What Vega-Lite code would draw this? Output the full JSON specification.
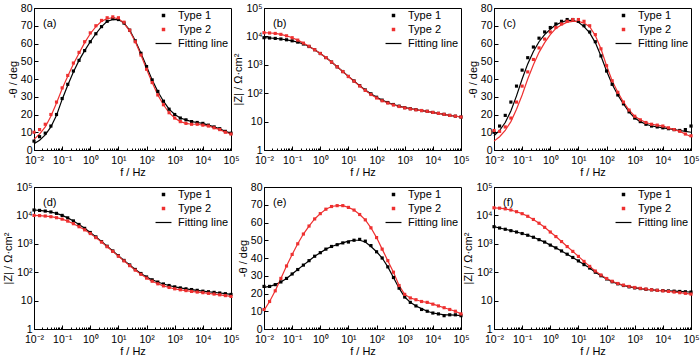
{
"$schema":"https://vega.github.io/schema/vega-lite/v6.json",
"background":"white",
"padding":{"left":2,"top":2,"right":2,"bottom":2},
"bounds":"flush",
"columns":3,
"spacing":{"row":37,"column":33},
"config":{
 "font":"Liberation Sans",
 "view":{"stroke":"black","strokeWidth":1},
 "axis":{"domainColor":"black","domainWidth":1,"tickColor":"black","tickWidth":1,"labelColor":"black","titleColor":"black","labelFontSize":10.5,"titleFontSize":11,"titleFontWeight":"normal","grid":false,"labelPadding":6,"titlePadding":2,"labelFlush":false,"labelOverlap":false,"labelBound":false},
 "title":{"fontSize":11,"fontWeight":"normal","anchor":"start","frame":"group","offset":-26,"dx":9,"color":"black"},
 "legend":{"labelColor":"black","labelFont":"Liberation Sans","title":"\u00a0","titleOrient":"right","titlePadding":6,"titleFontSize":11,"orient":"top-right","offset":2,"padding":0,"rowPadding":2,"labelFontSize":11,"labelOffset":9,"symbolSize":12}
},
"resolve":{"legend":{"color":"independent","shape":"independent"}},
"datasets":{
"a":[
{"f":0.01,"Type 1":5,"Type 2":10,"fit1":3.5,"fit2":6},
{"f":0.0158,"Type 1":7.5,"Type 2":11.5,"fit1":5.5,"fit2":9},
{"f":0.0251,"Type 1":9.5,"Type 2":14.5,"fit1":8.5,"fit2":13},
{"f":0.0398,"Type 1":13.5,"Type 2":20,"fit1":13,"fit2":19},
{"f":0.0631,"Type 1":20,"Type 2":27,"fit1":19.5,"fit2":26.5},
{"f":0.1,"Type 1":29,"Type 2":35,"fit1":28.5,"fit2":34.5},
{"f":0.158,"Type 1":37,"Type 2":42,"fit1":36.5,"fit2":41.5},
{"f":0.251,"Type 1":44.5,"Type 2":49,"fit1":44,"fit2":48.5},
{"f":0.398,"Type 1":50.5,"Type 2":55,"fit1":50.5,"fit2":54.5},
{"f":0.631,"Type 1":56,"Type 2":61,"fit1":56,"fit2":60.5},
{"f":1,"Type 1":61,"Type 2":66,"fit1":61,"fit2":65.5},
{"f":1.58,"Type 1":65.5,"Type 2":70,"fit1":65.5,"fit2":69.5},
{"f":2.51,"Type 1":69.5,"Type 2":73,"fit1":69.5,"fit2":72.5},
{"f":3.98,"Type 1":72.5,"Type 2":74.5,"fit1":72.5,"fit2":74},
{"f":6.31,"Type 1":74,"Type 2":75,"fit1":73.5,"fit2":74.5},
{"f":10,"Type 1":73.5,"Type 2":74.5,"fit1":73.5,"fit2":74},
{"f":15.8,"Type 1":71.5,"Type 2":72,"fit1":71.5,"fit2":71.5},
{"f":25.1,"Type 1":67.5,"Type 2":67.5,"fit1":67.5,"fit2":67},
{"f":39.8,"Type 1":61.5,"Type 2":61,"fit1":61.5,"fit2":61},
{"f":63.1,"Type 1":54.5,"Type 2":53.5,"fit1":54.5,"fit2":53.5},
{"f":100,"Type 1":47,"Type 2":45.5,"fit1":47,"fit2":45.5},
{"f":158,"Type 1":39.5,"Type 2":38,"fit1":39.5,"fit2":38},
{"f":251,"Type 1":33,"Type 2":31,"fit1":33,"fit2":31},
{"f":398,"Type 1":27.5,"Type 2":25.5,"fit1":27.5,"fit2":25.5},
{"f":631,"Type 1":23,"Type 2":21,"fit1":23,"fit2":21},
{"f":1000,"Type 1":20,"Type 2":18,"fit1":20,"fit2":18},
{"f":1580,"Type 1":18,"Type 2":16,"fit1":18,"fit2":16},
{"f":2510,"Type 1":17,"Type 2":15,"fit1":17,"fit2":15},
{"f":3980,"Type 1":16,"Type 2":14.5,"fit1":16,"fit2":14.5},
{"f":6310,"Type 1":15.5,"Type 2":14.5,"fit1":15.5,"fit2":14.5},
{"f":10000,"Type 1":15,"Type 2":14,"fit1":15,"fit2":14},
{"f":15800,"Type 1":14,"Type 2":13.5,"fit1":14,"fit2":13.5},
{"f":25100,"Type 1":13,"Type 2":12.5,"fit1":13,"fit2":12.5},
{"f":39800,"Type 1":12,"Type 2":11.5,"fit1":12,"fit2":11.5},
{"f":63100,"Type 1":10.5,"Type 2":10,"fit1":10.5,"fit2":10},
{"f":100000,"Type 1":9.5,"Type 2":9,"fit1":9.5,"fit2":9}
],
"b":[
{"f":0.01,"Type 1":9000,"Type 2":13500},
{"f":0.0158,"Type 1":8800,"Type 2":13200},
{"f":0.0251,"Type 1":8500,"Type 2":12700},
{"f":0.0398,"Type 1":8100,"Type 2":11800},
{"f":0.0631,"Type 1":7600,"Type 2":10500},
{"f":0.1,"Type 1":7000,"Type 2":9000},
{"f":0.158,"Type 1":6300,"Type 2":7400},
{"f":0.251,"Type 1":5400,"Type 2":5800},
{"f":0.398,"Type 1":4400,"Type 2":4500},
{"f":0.631,"Type 1":3400,"Type 2":3400},
{"f":1,"Type 1":2500,"Type 2":2500},
{"f":1.58,"Type 1":1800,"Type 2":1800},
{"f":2.51,"Type 1":1250,"Type 2":1250},
{"f":3.98,"Type 1":850,"Type 2":850},
{"f":6.31,"Type 1":580,"Type 2":575},
{"f":10,"Type 1":390,"Type 2":385},
{"f":15.8,"Type 1":270,"Type 2":265},
{"f":25.1,"Type 1":185,"Type 2":180},
{"f":39.8,"Type 1":130,"Type 2":125},
{"f":63.1,"Type 1":95,"Type 2":90},
{"f":100,"Type 1":72,"Type 2":68},
{"f":158,"Type 1":57,"Type 2":54},
{"f":251,"Type 1":47,"Type 2":45},
{"f":398,"Type 1":40,"Type 2":38.5},
{"f":631,"Type 1":35,"Type 2":34},
{"f":1000,"Type 1":31,"Type 2":30.5},
{"f":1580,"Type 1":28.5,"Type 2":28},
{"f":2510,"Type 1":26.5,"Type 2":26},
{"f":3980,"Type 1":24.5,"Type 2":24.5},
{"f":6310,"Type 1":23,"Type 2":23},
{"f":10000,"Type 1":21,"Type 2":21},
{"f":15800,"Type 1":19.5,"Type 2":19.5},
{"f":25100,"Type 1":18,"Type 2":18},
{"f":39800,"Type 1":16.5,"Type 2":16.5},
{"f":63100,"Type 1":15.5,"Type 2":15.5},
{"f":100000,"Type 1":14.5,"Type 2":14.5}
],
"c":[
{"f":0.01,"Type 1":10,"Type 2":11,"fit1":8,"fit2":5},
{"f":0.0158,"Type 1":13.5,"Type 2":10.5,"fit1":11,"fit2":7.5},
{"f":0.0251,"Type 1":19.5,"Type 2":13,"fit1":15.5,"fit2":11},
{"f":0.0398,"Type 1":27,"Type 2":18,"fit1":22,"fit2":16},
{"f":0.0631,"Type 1":36,"Type 2":27,"fit1":30.5,"fit2":23},
{"f":0.1,"Type 1":45,"Type 2":36,"fit1":40,"fit2":31},
{"f":0.158,"Type 1":52,"Type 2":44,"fit1":48.5,"fit2":40},
{"f":0.251,"Type 1":58,"Type 2":51,"fit1":55.5,"fit2":48},
{"f":0.398,"Type 1":63,"Type 2":57.5,"fit1":61,"fit2":55},
{"f":0.631,"Type 1":66.5,"Type 2":62.5,"fit1":65,"fit2":60.5},
{"f":1,"Type 1":69,"Type 2":66.5,"fit1":68,"fit2":65},
{"f":1.58,"Type 1":71,"Type 2":69,"fit1":70.5,"fit2":68.5},
{"f":2.51,"Type 1":72.5,"Type 2":71,"fit1":72,"fit2":70.5},
{"f":3.98,"Type 1":73.5,"Type 2":72.5,"fit1":73,"fit2":72},
{"f":6.31,"Type 1":73.5,"Type 2":73.5,"fit1":73,"fit2":72.5},
{"f":10,"Type 1":72.5,"Type 2":73.5,"fit1":72,"fit2":72.5},
{"f":15.8,"Type 1":70,"Type 2":72.5,"fit1":69.5,"fit2":71.5},
{"f":25.1,"Type 1":66.5,"Type 2":70,"fit1":66,"fit2":69.5},
{"f":39.8,"Type 1":61,"Type 2":65,"fit1":60.5,"fit2":64.5},
{"f":63.1,"Type 1":53,"Type 2":57,"fit1":53,"fit2":57},
{"f":100,"Type 1":44.5,"Type 2":47.5,"fit1":44.5,"fit2":47.5},
{"f":158,"Type 1":37,"Type 2":39,"fit1":37,"fit2":39},
{"f":251,"Type 1":31,"Type 2":32.5,"fit1":31,"fit2":32.5},
{"f":398,"Type 1":26,"Type 2":27,"fit1":26,"fit2":27},
{"f":631,"Type 1":21.5,"Type 2":22.5,"fit1":21.5,"fit2":22.5},
{"f":1000,"Type 1":18,"Type 2":19,"fit1":18,"fit2":19},
{"f":1580,"Type 1":16,"Type 2":17,"fit1":16,"fit2":17},
{"f":2510,"Type 1":14.5,"Type 2":15.5,"fit1":14.5,"fit2":15.5},
{"f":3980,"Type 1":13.5,"Type 2":14.5,"fit1":13.5,"fit2":14.5},
{"f":6310,"Type 1":13,"Type 2":14,"fit1":13,"fit2":14},
{"f":10000,"Type 1":12.5,"Type 2":13.5,"fit1":12.5,"fit2":13.5},
{"f":15800,"Type 1":12,"Type 2":12.5,"fit1":12,"fit2":12.5},
{"f":25100,"Type 1":11.5,"Type 2":11.5,"fit1":11.5,"fit2":11.5},
{"f":39800,"Type 1":11,"Type 2":10.5,"fit1":11,"fit2":10.5},
{"f":63100,"Type 1":11.5,"Type 2":9,"fit1":10.5,"fit2":9},
{"f":100000,"Type 1":13.5,"Type 2":8,"fit1":10,"fit2":7.5}
],
"d":[
{"f":0.01,"Type 1":15500,"Type 2":10000},
{"f":0.0158,"Type 1":15000,"Type 2":9800},
{"f":0.0251,"Type 1":14200,"Type 2":9500},
{"f":0.0398,"Type 1":13200,"Type 2":9000},
{"f":0.0631,"Type 1":11800,"Type 2":8300},
{"f":0.1,"Type 1":10000,"Type 2":7400},
{"f":0.158,"Type 1":8200,"Type 2":6300},
{"f":0.251,"Type 1":6400,"Type 2":5100},
{"f":0.398,"Type 1":4800,"Type 2":4000},
{"f":0.631,"Type 1":3500,"Type 2":3100},
{"f":1,"Type 1":2500,"Type 2":2300},
{"f":1.58,"Type 1":1750,"Type 2":1650},
{"f":2.51,"Type 1":1200,"Type 2":1150},
{"f":3.98,"Type 1":820,"Type 2":790},
{"f":6.31,"Type 1":560,"Type 2":540},
{"f":10,"Type 1":380,"Type 2":365},
{"f":15.8,"Type 1":260,"Type 2":250},
{"f":25.1,"Type 1":180,"Type 2":170},
{"f":39.8,"Type 1":125,"Type 2":118},
{"f":63.1,"Type 1":90,"Type 2":84},
{"f":100,"Type 1":68,"Type 2":62},
{"f":158,"Type 1":54,"Type 2":48},
{"f":251,"Type 1":45,"Type 2":39},
{"f":398,"Type 1":38.5,"Type 2":33},
{"f":631,"Type 1":34,"Type 2":29},
{"f":1000,"Type 1":30.5,"Type 2":26},
{"f":1580,"Type 1":28,"Type 2":24},
{"f":2510,"Type 1":26,"Type 2":22.5},
{"f":3980,"Type 1":24.5,"Type 2":21},
{"f":6310,"Type 1":23,"Type 2":20},
{"f":10000,"Type 1":21.5,"Type 2":19},
{"f":15800,"Type 1":20.5,"Type 2":18},
{"f":25100,"Type 1":19.5,"Type 2":17},
{"f":39800,"Type 1":18.5,"Type 2":16},
{"f":63100,"Type 1":17.5,"Type 2":15},
{"f":100000,"Type 1":16.5,"Type 2":14}
],
"e":[
{"f":0.01,"Type 1":24,"Type 2":11,"fit1":23.5,"fit2":10.5},
{"f":0.0158,"Type 1":24,"Type 2":15.5,"fit1":24,"fit2":15.5},
{"f":0.0251,"Type 1":25,"Type 2":21.5,"fit1":25,"fit2":21.5},
{"f":0.0398,"Type 1":26.5,"Type 2":28.5,"fit1":26.5,"fit2":28.5},
{"f":0.0631,"Type 1":28.5,"Type 2":35.5,"fit1":28.5,"fit2":35.5},
{"f":0.1,"Type 1":31,"Type 2":42,"fit1":31,"fit2":42},
{"f":0.158,"Type 1":33.5,"Type 2":48,"fit1":33.5,"fit2":48},
{"f":0.251,"Type 1":36,"Type 2":53.5,"fit1":36,"fit2":53.5},
{"f":0.398,"Type 1":38.5,"Type 2":58,"fit1":38.5,"fit2":58},
{"f":0.631,"Type 1":41,"Type 2":62,"fit1":41,"fit2":62},
{"f":1,"Type 1":43,"Type 2":65,"fit1":43,"fit2":65},
{"f":1.58,"Type 1":45,"Type 2":67.5,"fit1":45,"fit2":67.5},
{"f":2.51,"Type 1":46.5,"Type 2":69,"fit1":46.5,"fit2":69},
{"f":3.98,"Type 1":47.5,"Type 2":69.5,"fit1":47.5,"fit2":69.5},
{"f":6.31,"Type 1":48.5,"Type 2":69.5,"fit1":48.5,"fit2":69.5},
{"f":10,"Type 1":49,"Type 2":68.5,"fit1":49.5,"fit2":68.5},
{"f":15.8,"Type 1":50,"Type 2":67,"fit1":50,"fit2":67},
{"f":25.1,"Type 1":50.5,"Type 2":64.5,"fit1":50,"fit2":64.5},
{"f":39.8,"Type 1":49.5,"Type 2":61.5,"fit1":49,"fit2":61.5},
{"f":63.1,"Type 1":47,"Type 2":57,"fit1":46.5,"fit2":57},
{"f":100,"Type 1":43.5,"Type 2":51.5,"fit1":43.5,"fit2":51.5},
{"f":158,"Type 1":40,"Type 2":45,"fit1":40,"fit2":45},
{"f":251,"Type 1":35,"Type 2":38.5,"fit1":35,"fit2":38.5},
{"f":398,"Type 1":29,"Type 2":32,"fit1":29,"fit2":32},
{"f":631,"Type 1":23,"Type 2":24.5,"fit1":23,"fit2":24.5},
{"f":1000,"Type 1":18,"Type 2":19.5,"fit1":18,"fit2":19.5},
{"f":1580,"Type 1":15,"Type 2":17.5,"fit1":15,"fit2":17.5},
{"f":2510,"Type 1":13,"Type 2":16.5,"fit1":13,"fit2":16.5},
{"f":3980,"Type 1":11,"Type 2":15.5,"fit1":11.5,"fit2":15.5},
{"f":6310,"Type 1":10,"Type 2":15,"fit1":10,"fit2":15},
{"f":10000,"Type 1":9,"Type 2":14,"fit1":9,"fit2":14},
{"f":15800,"Type 1":8.5,"Type 2":13,"fit1":8.5,"fit2":13},
{"f":25100,"Type 1":7.5,"Type 2":12,"fit1":8,"fit2":12},
{"f":39800,"Type 1":8,"Type 2":11,"fit1":8,"fit2":11},
{"f":63100,"Type 1":8,"Type 2":10,"fit1":7.8,"fit2":10},
{"f":100000,"Type 1":7.5,"Type 2":8.5,"fit1":7.5,"fit2":8.5}
],
"f":[
{"f":0.01,"Type 1":4000,"Type 2":18500},
{"f":0.0158,"Type 1":3600,"Type 2":18000},
{"f":0.0251,"Type 1":3250,"Type 2":17000},
{"f":0.0398,"Type 1":2900,"Type 2":15500},
{"f":0.0631,"Type 1":2600,"Type 2":13500},
{"f":0.1,"Type 1":2300,"Type 2":11500},
{"f":0.158,"Type 1":2000,"Type 2":9300},
{"f":0.251,"Type 1":1700,"Type 2":7200},
{"f":0.398,"Type 1":1400,"Type 2":5300},
{"f":0.631,"Type 1":1150,"Type 2":3800},
{"f":1,"Type 1":900,"Type 2":2600},
{"f":1.58,"Type 1":720,"Type 2":1800},
{"f":2.51,"Type 1":560,"Type 2":1200},
{"f":3.98,"Type 1":430,"Type 2":800},
{"f":6.31,"Type 1":330,"Type 2":540},
{"f":10,"Type 1":250,"Type 2":360},
{"f":15.8,"Type 1":185,"Type 2":240},
{"f":25.1,"Type 1":140,"Type 2":160},
{"f":39.8,"Type 1":100,"Type 2":110},
{"f":63.1,"Type 1":75,"Type 2":80},
{"f":100,"Type 1":58,"Type 2":60},
{"f":158,"Type 1":46,"Type 2":48},
{"f":251,"Type 1":39,"Type 2":40},
{"f":398,"Type 1":34,"Type 2":35},
{"f":631,"Type 1":30.5,"Type 2":31.5},
{"f":1000,"Type 1":28,"Type 2":29},
{"f":1580,"Type 1":26.5,"Type 2":27},
{"f":2510,"Type 1":25,"Type 2":25.5},
{"f":3980,"Type 1":24,"Type 2":24},
{"f":6310,"Type 1":23,"Type 2":23},
{"f":10000,"Type 1":22.5,"Type 2":22},
{"f":15800,"Type 1":22,"Type 2":21},
{"f":25100,"Type 1":21.5,"Type 2":20},
{"f":39800,"Type 1":21,"Type 2":19},
{"f":63100,"Type 1":20.5,"Type 2":18},
{"f":100000,"Type 1":20,"Type 2":17}
]
},
"concat":[
{"width":197,"height":142,"title":{"text":"(a)"},"data":{"name":"a"},"resolve":{"axis":{"x":"independent"}},
 "layer":[
  {"mark":{"type":"line","color":"black","strokeWidth":1.2},"encoding":{"x":{"field":"f","type":"quantitative","scale":{"type":"log","domain":[0.01,100000],"nice":false},"axis":{"tickCount":20,"labels":false,"domain":false,"title":null,"orient":"bottom","tickSize":-2}},"y":{"field":"fit1","type":"quantitative","scale":{"domain":[0,80],"nice":false},"axis":{"values":[0,10,20,30,40,50,60,70,80],"title":"-θ / deg","tickSize":-4}}}},
  {"mark":{"type":"line","color":"#ee3030","strokeWidth":1.2},"encoding":{"x":{"field":"f","type":"quantitative","axis":null},"y":{"field":"fit2","type":"quantitative","axis":{"values":[0,10,20,30,40,50,60,70,80],"title":"-θ / deg","tickSize":-4}}}},
  {"transform":[{"fold":["Type 1","Type 2"],"as":["t","v"]}],"mark":{"type":"point","shape":"square","filled":true,"size":10,"opacity":1},
   "encoding":{"x":{"field":"f","type":"quantitative","axis":{"values":[0.01,0.1,1,10,100,1000,10000,100000],"labelExpr":"['10⁻²','10⁻¹','10⁰','10¹','10²','10³','10⁴','10⁵'][round(log(datum.value)/LN10)+2]","title":"f / Hz","orient":"bottom","tickSize":-4,"labelPadding":9,"titlePadding":1}},
    "y":{"field":"v","type":"quantitative","axis":{"values":[0,10,20,30,40,50,60,70,80],"title":"-θ / deg","tickSize":-4}},
    "color":{"field":"t","type":"nominal","scale":{"domain":["Type 1","Type 2","Fitting line"],"range":["black","#ee3030","black"]}},
    "shape":{"field":"t","type":"nominal","scale":{"domain":["Type 1","Type 2","Fitting line"],"range":["square","square","M-4.6,-0.35H4.6V0.35H-4.6Z"]}}}}
 ]},
{"width":197,"height":142,"title":{"text":"(b)"},"data":{"name":"b"},"resolve":{"axis":{"x":"independent"}},
 "layer":[
  {"mark":{"type":"line","color":"black","strokeWidth":1.2},"encoding":{"x":{"field":"f","type":"quantitative","scale":{"type":"log","domain":[0.01,100000],"nice":false},"axis":{"tickCount":20,"labels":false,"domain":false,"title":null,"orient":"bottom","tickSize":-2}},"y":{"field":"Type 1","type":"quantitative","scale":{"type":"log","domain":[1,100000],"nice":false},"axis":{"values":[1,10,100,1000,10000,100000],"labelExpr":"['1','10','10²','10³','10⁴','10⁵'][round(log(datum.value)/LN10)]","title":"|Z| / Ω·cm²","tickSize":-4}}}},
  {"mark":{"type":"line","color":"#ee3030","strokeWidth":1.2},"encoding":{"x":{"field":"f","type":"quantitative","axis":null},"y":{"field":"Type 2","type":"quantitative","axis":{"values":[1,10,100,1000,10000,100000],"labelExpr":"['1','10','10²','10³','10⁴','10⁵'][round(log(datum.value)/LN10)]","title":"|Z| / Ω·cm²","tickSize":-4}}}},
  {"transform":[{"fold":["Type 1","Type 2"],"as":["t","v"]}],"mark":{"type":"point","shape":"square","filled":true,"size":10,"opacity":1},
   "encoding":{"x":{"field":"f","type":"quantitative","axis":{"values":[0.01,0.1,1,10,100,1000,10000,100000],"labelExpr":"['10⁻²','10⁻¹','10⁰','10¹','10²','10³','10⁴','10⁵'][round(log(datum.value)/LN10)+2]","title":"f / Hz","orient":"bottom","tickSize":-4,"labelPadding":9,"titlePadding":1}},
    "y":{"field":"v","type":"quantitative","axis":{"values":[1,10,100,1000,10000,100000],"labelExpr":"['1','10','10²','10³','10⁴','10⁵'][round(log(datum.value)/LN10)]","title":"|Z| / Ω·cm²","tickSize":-4}},
    "color":{"field":"t","type":"nominal","scale":{"domain":["Type 1","Type 2","Fitting line"],"range":["black","#ee3030","black"]}},
    "shape":{"field":"t","type":"nominal","scale":{"domain":["Type 1","Type 2","Fitting line"],"range":["square","square","M-4.6,-0.35H4.6V0.35H-4.6Z"]}}}}
 ]},
{"width":197,"height":142,"title":{"text":"(c)"},"data":{"name":"c"},"resolve":{"axis":{"x":"independent"}},
 "layer":[
  {"mark":{"type":"line","color":"black","strokeWidth":1.2},"encoding":{"x":{"field":"f","type":"quantitative","scale":{"type":"log","domain":[0.01,100000],"nice":false},"axis":{"tickCount":20,"labels":false,"domain":false,"title":null,"orient":"bottom","tickSize":-2}},"y":{"field":"fit1","type":"quantitative","scale":{"domain":[0,80],"nice":false},"axis":{"values":[0,10,20,30,40,50,60,70,80],"title":"-θ / deg","tickSize":-4}}}},
  {"mark":{"type":"line","color":"#ee3030","strokeWidth":1.2},"encoding":{"x":{"field":"f","type":"quantitative","axis":null},"y":{"field":"fit2","type":"quantitative","axis":{"values":[0,10,20,30,40,50,60,70,80],"title":"-θ / deg","tickSize":-4}}}},
  {"transform":[{"fold":["Type 1","Type 2"],"as":["t","v"]}],"mark":{"type":"point","shape":"square","filled":true,"size":10,"opacity":1},
   "encoding":{"x":{"field":"f","type":"quantitative","axis":{"values":[0.01,0.1,1,10,100,1000,10000,100000],"labelExpr":"['10⁻²','10⁻¹','10⁰','10¹','10²','10³','10⁴','10⁵'][round(log(datum.value)/LN10)+2]","title":"f / Hz","orient":"bottom","tickSize":-4,"labelPadding":9,"titlePadding":1}},
    "y":{"field":"v","type":"quantitative","axis":{"values":[0,10,20,30,40,50,60,70,80],"title":"-θ / deg","tickSize":-4}},
    "color":{"field":"t","type":"nominal","scale":{"domain":["Type 1","Type 2","Fitting line"],"range":["black","#ee3030","black"]}},
    "shape":{"field":"t","type":"nominal","scale":{"domain":["Type 1","Type 2","Fitting line"],"range":["square","square","M-4.6,-0.35H4.6V0.35H-4.6Z"]}}}}
 ]},
{"width":197,"height":142,"title":{"text":"(d)"},"data":{"name":"d"},"resolve":{"axis":{"x":"independent"}},
 "layer":[
  {"mark":{"type":"line","color":"black","strokeWidth":1.2},"encoding":{"x":{"field":"f","type":"quantitative","scale":{"type":"log","domain":[0.01,100000],"nice":false},"axis":{"tickCount":20,"labels":false,"domain":false,"title":null,"orient":"bottom","tickSize":-2}},"y":{"field":"Type 1","type":"quantitative","scale":{"type":"log","domain":[1,100000],"nice":false},"axis":{"values":[1,10,100,1000,10000,100000],"labelExpr":"['1','10','10²','10³','10⁴','10⁵'][round(log(datum.value)/LN10)]","title":"|Z| / Ω·cm²","tickSize":-4}}}},
  {"mark":{"type":"line","color":"#ee3030","strokeWidth":1.2},"encoding":{"x":{"field":"f","type":"quantitative","axis":null},"y":{"field":"Type 2","type":"quantitative","axis":{"values":[1,10,100,1000,10000,100000],"labelExpr":"['1','10','10²','10³','10⁴','10⁵'][round(log(datum.value)/LN10)]","title":"|Z| / Ω·cm²","tickSize":-4}}}},
  {"transform":[{"fold":["Type 1","Type 2"],"as":["t","v"]}],"mark":{"type":"point","shape":"square","filled":true,"size":10,"opacity":1},
   "encoding":{"x":{"field":"f","type":"quantitative","axis":{"values":[0.01,0.1,1,10,100,1000,10000,100000],"labelExpr":"['10⁻²','10⁻¹','10⁰','10¹','10²','10³','10⁴','10⁵'][round(log(datum.value)/LN10)+2]","title":"f / Hz","orient":"bottom","tickSize":-4,"labelPadding":9,"titlePadding":1}},
    "y":{"field":"v","type":"quantitative","axis":{"values":[1,10,100,1000,10000,100000],"labelExpr":"['1','10','10²','10³','10⁴','10⁵'][round(log(datum.value)/LN10)]","title":"|Z| / Ω·cm²","tickSize":-4}},
    "color":{"field":"t","type":"nominal","scale":{"domain":["Type 1","Type 2","Fitting line"],"range":["black","#ee3030","black"]}},
    "shape":{"field":"t","type":"nominal","scale":{"domain":["Type 1","Type 2","Fitting line"],"range":["square","square","M-4.6,-0.35H4.6V0.35H-4.6Z"]}}}}
 ]},
{"width":197,"height":142,"title":{"text":"(e)"},"data":{"name":"e"},"resolve":{"axis":{"x":"independent"}},
 "layer":[
  {"mark":{"type":"line","color":"black","strokeWidth":1.2},"encoding":{"x":{"field":"f","type":"quantitative","scale":{"type":"log","domain":[0.01,100000],"nice":false},"axis":{"tickCount":20,"labels":false,"domain":false,"title":null,"orient":"bottom","tickSize":-2}},"y":{"field":"fit1","type":"quantitative","scale":{"domain":[0,80],"nice":false},"axis":{"values":[0,10,20,30,40,50,60,70,80],"title":"-θ / deg","tickSize":-4}}}},
  {"mark":{"type":"line","color":"#ee3030","strokeWidth":1.2},"encoding":{"x":{"field":"f","type":"quantitative","axis":null},"y":{"field":"fit2","type":"quantitative","axis":{"values":[0,10,20,30,40,50,60,70,80],"title":"-θ / deg","tickSize":-4}}}},
  {"transform":[{"fold":["Type 1","Type 2"],"as":["t","v"]}],"mark":{"type":"point","shape":"square","filled":true,"size":10,"opacity":1},
   "encoding":{"x":{"field":"f","type":"quantitative","axis":{"values":[0.01,0.1,1,10,100,1000,10000,100000],"labelExpr":"['10⁻²','10⁻¹','10⁰','10¹','10²','10³','10⁴','10⁵'][round(log(datum.value)/LN10)+2]","title":"f / Hz","orient":"bottom","tickSize":-4,"labelPadding":9,"titlePadding":1}},
    "y":{"field":"v","type":"quantitative","axis":{"values":[0,10,20,30,40,50,60,70,80],"title":"-θ / deg","tickSize":-4}},
    "color":{"field":"t","type":"nominal","scale":{"domain":["Type 1","Type 2","Fitting line"],"range":["black","#ee3030","black"]}},
    "shape":{"field":"t","type":"nominal","scale":{"domain":["Type 1","Type 2","Fitting line"],"range":["square","square","M-4.6,-0.35H4.6V0.35H-4.6Z"]}}}}
 ]},
{"width":197,"height":142,"title":{"text":"(f)"},"data":{"name":"f"},"resolve":{"axis":{"x":"independent"}},
 "layer":[
  {"mark":{"type":"line","color":"black","strokeWidth":1.2},"encoding":{"x":{"field":"f","type":"quantitative","scale":{"type":"log","domain":[0.01,100000],"nice":false},"axis":{"tickCount":20,"labels":false,"domain":false,"title":null,"orient":"bottom","tickSize":-2}},"y":{"field":"Type 1","type":"quantitative","scale":{"type":"log","domain":[1,100000],"nice":false},"axis":{"values":[1,10,100,1000,10000,100000],"labelExpr":"['1','10','10²','10³','10⁴','10⁵'][round(log(datum.value)/LN10)]","title":"|Z| / Ω·cm²","tickSize":-4}}}},
  {"mark":{"type":"line","color":"#ee3030","strokeWidth":1.2},"encoding":{"x":{"field":"f","type":"quantitative","axis":null},"y":{"field":"Type 2","type":"quantitative","axis":{"values":[1,10,100,1000,10000,100000],"labelExpr":"['1','10','10²','10³','10⁴','10⁵'][round(log(datum.value)/LN10)]","title":"|Z| / Ω·cm²","tickSize":-4}}}},
  {"transform":[{"fold":["Type 1","Type 2"],"as":["t","v"]}],"mark":{"type":"point","shape":"square","filled":true,"size":10,"opacity":1},
   "encoding":{"x":{"field":"f","type":"quantitative","axis":{"values":[0.01,0.1,1,10,100,1000,10000,100000],"labelExpr":"['10⁻²','10⁻¹','10⁰','10¹','10²','10³','10⁴','10⁵'][round(log(datum.value)/LN10)+2]","title":"f / Hz","orient":"bottom","tickSize":-4,"labelPadding":9,"titlePadding":1}},
    "y":{"field":"v","type":"quantitative","axis":{"values":[1,10,100,1000,10000,100000],"labelExpr":"['1','10','10²','10³','10⁴','10⁵'][round(log(datum.value)/LN10)]","title":"|Z| / Ω·cm²","tickSize":-4}},
    "color":{"field":"t","type":"nominal","scale":{"domain":["Type 1","Type 2","Fitting line"],"range":["black","#ee3030","black"]}},
    "shape":{"field":"t","type":"nominal","scale":{"domain":["Type 1","Type 2","Fitting line"],"range":["square","square","M-4.6,-0.35H4.6V0.35H-4.6Z"]}}}}
 ]}
]
}
